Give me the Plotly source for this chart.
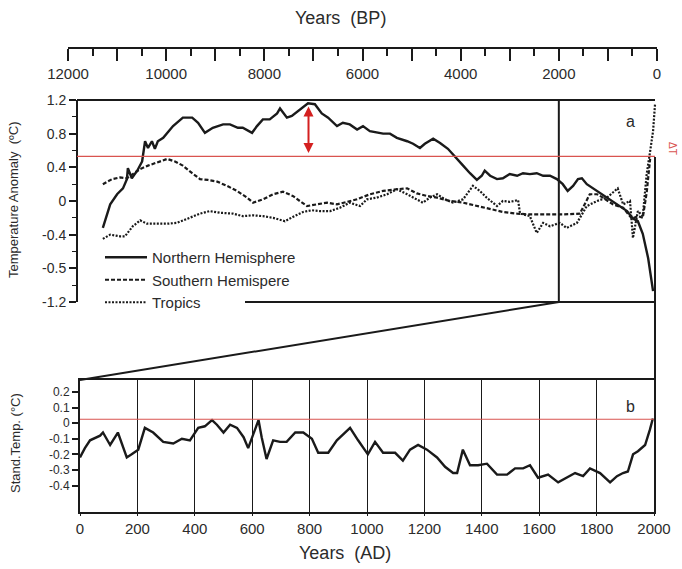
import plotly.graph_objects as go

W, H = 682, 569
def px(x): return x / W
def py(y): return 1 - y / H

# ---------- Panel a data (Years BP, anomaly °C) ----------
nh_bp = [11290, 11140, 11000, 10880, 10800, 10780, 10700, 10590, 10490, 10430, 10370, 10290, 10230, 10170,
         10060, 9860, 9660, 9470, 9350, 9210, 9050, 8840, 8700, 8540, 8440, 8250, 8150, 8030, 7890, 7740,
         7680, 7540, 7440, 7270, 7110, 6970, 6830, 6700, 6600, 6520, 6400, 6260, 6110, 5990, 5850, 5710,
         5580, 5440, 5300, 5090, 4970, 4830, 4730, 4560, 4420, 4260, 4080, 3950, 3810, 3670, 3570, 3510,
         3400, 3260, 3140, 3000, 2850, 2730, 2590, 2450, 2320, 2180, 2040, 1920, 1820, 1710, 1610, 1530,
         1430, 1220, 1020, 820, 610, 490, 390, 290, 180, 80]
nh_val = [-0.32, -0.04, 0.08, 0.15, 0.26, 0.39, 0.27, 0.36, 0.47, 0.71, 0.63, 0.71, 0.62, 0.71,
          0.75, 0.89, 0.99, 0.99, 0.93, 0.81, 0.87, 0.91, 0.91, 0.87, 0.87, 0.81, 0.89, 0.97, 0.97, 1.04,
          1.10, 0.99, 1.01, 1.09, 1.16, 1.15, 1.04, 0.99, 0.93, 0.89, 0.93, 0.91, 0.85, 0.89, 0.83, 0.81,
          0.80, 0.80, 0.75, 0.71, 0.68, 0.63, 0.68, 0.74, 0.69, 0.62, 0.51, 0.42, 0.33, 0.25, 0.30, 0.36,
          0.30, 0.26, 0.27, 0.32, 0.30, 0.33, 0.32, 0.33, 0.30, 0.30, 0.26, 0.20, 0.12, 0.18, 0.26, 0.27,
          0.20, 0.12, 0.04, -0.04, -0.12, -0.21, -0.24, -0.39, -0.68, -1.07]

sh_bp = [11290, 11100, 10940, 10800, 10680, 10530, 10370, 10190, 9980, 9820, 9660, 9470, 9310, 9150,
         8960, 8760, 8560, 8350, 8230, 8030, 7820, 7620, 7420, 7230, 7130, 6930, 6720, 6520, 6400, 6110,
         5850, 5580, 5300, 5090, 4890, 4690, 4480, 4220, 3950, 3670, 3400, 3140, 2850, 2590, 2240, 1920,
         1570, 1370, 1220, 1100, 900, 690, 510, 390, 290, 210, 140]
sh_val = [0.20, 0.26, 0.28, 0.27, 0.32, 0.38, 0.42, 0.46, 0.50, 0.47, 0.42, 0.33, 0.26, 0.25,
          0.23, 0.18, 0.12, 0.04, -0.02, 0.02, 0.08, 0.11, 0.06, -0.02, -0.06, -0.04, -0.02, -0.04, -0.02, 0.02,
          0.08, 0.12, 0.14, 0.15, 0.09, 0.06, 0.04, 0.00, -0.02, -0.06, -0.10, -0.13, -0.15, -0.16, -0.16, -0.16,
          -0.15, 0.08, 0.08, 0.04, -0.04, -0.08, -0.21, -0.18, -0.20, 0.10, 0.50]

tr_bp = [11290, 11140, 10940, 10840, 10680, 10530, 10390, 10190, 9980, 9780, 9580, 9310, 9110, 8900,
         8640, 8440, 8230, 8030, 7820, 7580, 7420, 7210, 7030, 6870, 6660, 6460, 6260, 6050, 5910, 5710,
         5500, 5300, 5090, 4890, 4770, 4630, 4480, 4320, 4160, 3950, 3750, 3610, 3470, 3260, 3140, 3000,
         2830, 2790, 2590, 2450, 2320, 2180, 1980, 1840, 1630, 1430, 1220, 1020, 800, 690, 550, 490,
         390, 290, 210, 140, 80, 40]
tr_val = [-0.45, -0.40, -0.42, -0.42, -0.30, -0.23, -0.27, -0.27, -0.27, -0.26, -0.21, -0.15, -0.12, -0.14,
          -0.15, -0.18, -0.17, -0.18, -0.20, -0.24, -0.19, -0.13, -0.11, -0.12, -0.12, -0.08, -0.02, -0.06, 0.02, 0.04,
          0.08, 0.14, 0.08, 0.02, -0.02, 0.04, 0.08, 0.02, -0.02, 0.02, 0.18, 0.12, 0.04, -0.06, 0.00, -0.01,
          0.01, -0.15, -0.18, -0.38, -0.26, -0.30, -0.26, -0.32, -0.26, -0.06, 0.00, 0.04, 0.15, -0.04, 0.00, -0.44,
          -0.12, -0.18, 0.32, 0.59, 0.83, 1.15]

# ---------- Panel b data (Years AD, standardized temp) ----------
ad_year = [0, 17, 35, 70, 80, 105, 132, 163, 180, 203, 226, 255, 290, 325, 355, 383, 412, 435, 460, 477,
           500, 523, 547, 570, 586, 604, 622, 633, 650, 673, 697, 720, 750, 778, 808, 830, 865, 895, 941, 969,
           1003, 1028, 1056, 1098, 1125, 1150, 1178, 1209, 1244, 1272, 1300, 1314, 1334, 1359, 1387, 1418, 1453,
           1488, 1516, 1544, 1568, 1596, 1631, 1666, 1697, 1725, 1753, 1777, 1812, 1847, 1871, 1892, 1909, 1927,
           1944, 1969, 1986, 1996]
ad_val = [-0.22, -0.16, -0.11, -0.08, -0.06, -0.14, -0.06, -0.22, -0.20, -0.17, -0.03, -0.06, -0.12, -0.13,
          -0.10, -0.11, -0.03, -0.02, 0.02, -0.01, -0.06, -0.01, -0.03, -0.09, -0.16, -0.07, 0.02, -0.09, -0.23,
          -0.11, -0.12, -0.12, -0.06, -0.06, -0.10, -0.19, -0.19, -0.11, -0.03, -0.11, -0.20, -0.12, -0.19, -0.19,
          -0.24, -0.17, -0.14, -0.17, -0.22, -0.28, -0.32, -0.32, -0.17, -0.27, -0.27, -0.26, -0.33, -0.33, -0.29,
          -0.29, -0.27, -0.35, -0.33, -0.38, -0.35, -0.32, -0.34, -0.29, -0.32, -0.38, -0.34, -0.32, -0.31, -0.20,
          -0.18, -0.14, -0.04, 0.03]

# tick labels
ya_vals = [-1.2, -0.8, -0.4, 0, 0.4, 0.8, 1.2]
ya_text = ["-1.2", "-0.5", "-0.4", "0", "0.4", "0.8", "1.2"]
yb_vals = [-0.4, -0.3, -0.2, -0.1, 0, 0.1, 0.2]
yb_text = ["-0.4", "-0.3", "-0.2", "-0.1", "0", "0.1", "0.2"]
bp_vals = list(range(12000, -1, -1000))
bp_text = [str(v) if v % 2000 == 0 else "" for v in bp_vals]
ad_ticks = list(range(0, 2001, 200))

ref_a = 0.53     # red reference line, panel a
ref_b = 0.025    # red reference line, panel b
arrow_bp, arrow_top, arrow_bot = 7100, 1.14, 0.57

INK = "#1a1a1a"
TXT = "#2b2b2b"
RED = "#d9534f"
FONT = "Liberation Sans, Arial, sans-serif"

fig = go.Figure()
fig.add_trace(go.Scatter(x=nh_bp, y=nh_val, mode="lines", name="Northern Hemisphere",
                         line=dict(color=INK, width=2.4), xaxis="x", yaxis="y"))
fig.add_trace(go.Scatter(x=sh_bp, y=sh_val, mode="lines", name="Southern Hemispere",
                         line=dict(color=INK, width=2.2, dash="4px,2px"), xaxis="x", yaxis="y"))
fig.add_trace(go.Scatter(x=tr_bp, y=tr_val, mode="lines", name="Tropics",
                         line=dict(color=INK, width=2.2, dash="2px,1.5px"), xaxis="x", yaxis="y"))
fig.add_trace(go.Scatter(x=ad_year, y=ad_val, mode="lines", showlegend=False,
                         line=dict(color=INK, width=2.4), xaxis="x2", yaxis="y2"))
# invisible trace for the top BP axis
fig.add_trace(go.Scatter(x=[12000, 0], y=[0, 0], mode="markers", marker=dict(opacity=0),
                         showlegend=False, hoverinfo="skip", xaxis="x3", yaxis="y3"))

fig.update_layout(
    template="none",
    width=W, height=H, margin=dict(l=0, r=0, t=0, b=0, pad=0, autoexpand=False),
    paper_bgcolor="white", plot_bgcolor="rgba(0,0,0,0)",
    font=dict(family=FONT, color=TXT),
    showlegend=True,
    legend=dict(x=px(100), y=py(241), xanchor="left", yanchor="top",
                bgcolor="rgba(0,0,0,0)", font=dict(family=FONT, size=15, color=TXT),
                tracegroupgap=0, itemwidth=42),
    xaxis=dict(domain=[px(68), px(657)], range=[12000, 0], visible=False, anchor="y",
               automargin=False),
    yaxis=dict(domain=[py(302), py(100)], range=[-1.2, 1.2], anchor="free", position=px(77),
               tickvals=ya_vals, ticktext=ya_text, ticks="outside", ticklen=7, tickwidth=1.6,
               tickcolor=INK, showline=True, linecolor=INK, linewidth=2, showgrid=False,
               zeroline=False, automargin=False, tickfont=dict(family=FONT, size=14, color=TXT),
               minor=dict(dtick=0.2, ticks="outside", ticklen=4, tickwidth=1.4, tickcolor=INK, showgrid=False)),
    xaxis2=dict(domain=[px(80), px(654)], range=[0, 2000], anchor="y2",
                tickvals=ad_ticks, ticks="outside", ticklen=2, tickcolor=INK,
                showline=True, mirror=True, linecolor=INK, linewidth=2,
                showgrid=True, gridcolor=INK, gridwidth=1.3, zeroline=False, automargin=False,
                tickfont=dict(family=FONT, size=15, color=TXT)),
    yaxis2=dict(domain=[py(512), py(380)], range=[-0.57, 0.277], anchor="x2",
                tickvals=yb_vals, ticktext=yb_text, ticks="outside", ticklen=6, tickwidth=1.6,
                tickcolor=INK, showline=True, mirror=True, linecolor=INK, linewidth=2,
                showgrid=False, zeroline=False, automargin=False,
                tickfont=dict(family=FONT, size=12, color=TXT)),
    xaxis3=dict(domain=[px(68), px(657)], range=[12000, 0], anchor="y3",
                tickvals=bp_vals, ticktext=bp_text, ticks="outside", ticklen=12, tickwidth=2,
                tickcolor=INK, showline=True, linecolor=INK, linewidth=2, showgrid=False,
                zeroline=False, automargin=False, tickfont=dict(family=FONT, size=15, color=TXT),
                minor=dict(dtick=500, tick0=0, ticks="outside", ticklen=7, tickwidth=2, tickcolor=INK, showgrid=False)),
    yaxis3=dict(domain=[py(47), py(30)], range=[0, 1], visible=False, anchor="x3", automargin=False),
)

line_k = dict(color=INK, width=2)
shapes = [
    # panel a frame (top, partial bottom, right)
    dict(type="line", xref="paper", yref="paper", x0=px(77), x1=px(655), y0=py(100), y1=py(100), line=line_k),
    dict(type="line", xref="paper", yref="paper", x0=px(245), x1=px(655), y0=py(302), y1=py(302), line=line_k),
    dict(type="line", xref="paper", yref="paper", x0=px(655), x1=px(655), y0=py(157), y1=py(302), line=line_k),
    # boundary 2000 BP = 0 AD
    dict(type="line", xref="x", yref="paper", x0=2000, x1=2000, y0=py(302), y1=py(100), line=line_k),
    # zoom connectors
    dict(type="line", xref="paper", yref="paper", x0=px(559), y0=py(302), x1=px(80), y1=py(380), line=line_k),
    dict(type="line", xref="paper", yref="paper", x0=px(655), y0=py(302), x1=px(655), y1=py(380), line=line_k),
    # red reference lines
    dict(type="line", xref="paper", yref="y", x0=px(77), x1=px(655), y0=ref_a, y1=ref_a,
         line=dict(color=RED, width=1.2)),
    dict(type="line", xref="paper", yref="y2", x0=px(80), x1=px(654), y0=ref_b, y1=ref_b,
         line=dict(color=RED, width=1.2)),
]
fig.update_layout(shapes=shapes)

def label(text, x, y, size, color=TXT, angle=0):
    return dict(text=text, x=px(x), y=py(y), xref="paper", yref="paper", showarrow=False,
                xanchor="center", yanchor="middle", textangle=angle,
                font=dict(family=FONT, size=size, color=color))

ann = [
    label("Years  (BP)", 340, 18, 18),
    label("Years  (AD)", 345, 553, 18),
    label("Temperature Anomaly  (ºC)", 13, 200, 13, angle=-90),
    label("Stand.Temp. (°C)", 15, 443, 13, angle=-90),
    label("a", 630, 121, 16),
    label("b", 630, 407, 16),
    label("ΔT", 673, 148, 10, color=RED, angle=90),
    dict(text="", x=arrow_bp, y=arrow_bot, ax=arrow_bp, ay=arrow_top, xref="x", yref="y",
         axref="x", ayref="y", showarrow=True, arrowhead=2, arrowside="end+start",
         arrowsize=1, arrowwidth=2, arrowcolor="#d42020"),
]
fig.update_layout(annotations=ann)

fig.write_html("out.html")
